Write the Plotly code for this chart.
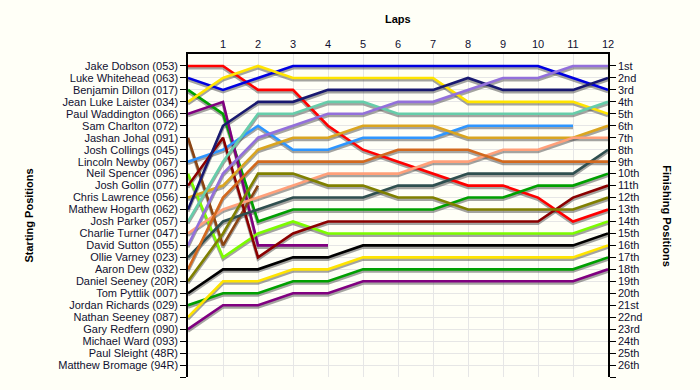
import plotly.graph_objects as go

laps = list(range(0, 13))
lap_labels = [str(i) for i in range(1, 13)]

starting_names = [
    "Jake Dobson (053)", "Luke Whitehead (063)", "Benjamin Dillon (017)",
    "Jean Luke Laister (034)", "Paul Waddington (066)", "Sam Charlton (072)",
    "Jashan Johal (091)", "Josh Collings (045)", "Lincoln Newby (067)",
    "Neil Spencer (096)", "Josh Gollin (077)", "Chris Lawrence (056)",
    "Mathew Hogarth (062)", "Josh Parker (057)", "Charlie Turner (047)",
    "David Sutton (055)", "Ollie Varney (023)", "Aaron Dew (032)",
    "Daniel Seeney (20R)", "Tom Pyttlik (007)", "Jordan Richards (029)",
    "Nathan Seeney (087)", "Gary Redfern (090)", "Michael Ward (093)",
    "Paul Sleight (48R)", "Matthew Bromage (94R)",
]

finishing_labels = [
    "1st", "2nd", "3rd", "4th", "5th", "6th", "7th", "8th", "9th", "10th",
    "11th", "12th", "13th", "14th", "15th", "16th", "17th", "18th", "19th",
    "20th", "21st", "22nd", "23rd", "24th", "25th", "26th",
]

# position per lap (lap 0 = grid)
jake_dobson      = [1, 1, 3, 3, 6, 8, 9, 10, 11, 11, 12, 14, 13]
luke_whitehead   = [2, 3, 2, 1, 1, 1, 1, 1, 1, 1, 1, 2, 3]
benjamin_dillon  = [3, 5, 14, 13, 13, 13, 13, 13, 12, 12, 11, 11, 10]
jean_luke_laister = [4, 2, 1, 2, 2, 2, 2, 2, 4, 4, 4, 4, 5]
paul_waddington  = [5, 4, 16, 16, 16]
jashan_johal     = [7, 16, 11]
lincoln_newby    = [9, 8, 6, 8, 8, 7, 7, 7, 6, 6, 6, 6]
neil_spencer     = [10, 17, 15, 14, 15, 15, 15, 15, 15, 15, 15, 15, 14]
josh_gollin      = [11, 7, 17, 15, 14, 14, 14, 14, 14, 14, 14, 12, 11]
chris_lawrence   = [12, 11, 8, 7, 7, 6, 6, 6, 7, 7, 7, 7, 6]
mathew_hogarth   = [13, 6, 4, 4, 3, 3, 3, 3, 2, 3, 3, 3, 2]
josh_parker      = [14, 9, 5, 5, 4, 4, 5, 5, 5, 5, 5, 5, 4]
charlie_turner   = [15, 13, 12, 11, 10, 10, 10, 9, 9, 8, 8, 7, 7]
david_sutton     = [16, 10, 7, 6, 5, 5, 4, 4, 3, 2, 2, 1, 1]
ollie_varney     = [17, 14, 13, 12, 12, 12, 11, 11, 10, 10, 10, 10, 8]
aaron_dew        = [18, 12, 9, 9, 9, 9, 8, 8, 8, 9, 9, 9, 9]
daniel_seeney    = [19, 15, 10, 10, 11, 11, 12, 12, 13, 13, 13, 13, 12]
tom_pyttlik      = [20, 18, 18, 17, 17, 16, 16, 16, 16, 16, 16, 16, 15]
jordan_richards  = [21, 20, 20, 19, 19, 18, 18, 18, 18, 18, 18, 18, 17]
nathan_seeney    = [22, 19, 19, 18, 18, 17, 17, 17, 17, 17, 17, 17, 16]
gary_redfern     = [23, 21, 21, 20, 20, 19, 19, 19, 19, 19, 19, 19, 18]

series = [
    ("Jake Dobson (053)", jake_dobson, "#FF0000"),
    ("Luke Whitehead (063)", luke_whitehead, "#0000E0"),
    ("Benjamin Dillon (017)", benjamin_dillon, "#00A000"),
    ("Jean Luke Laister (034)", jean_luke_laister, "#FFE400"),
    ("Paul Waddington (066)", paul_waddington, "#800080"),
    ("Jashan Johal (091)", jashan_johal, "#8B4513"),
    ("Lincoln Newby (067)", lincoln_newby, "#2E96FF"),
    ("Neil Spencer (096)", neil_spencer, "#7CFC00"),
    ("Josh Gollin (077)", josh_gollin, "#8B0000"),
    ("Chris Lawrence (056)", chris_lawrence, "#DAA520"),
    ("Mathew Hogarth (062)", mathew_hogarth, "#191970"),
    ("Josh Parker (057)", josh_parker, "#66CDAA"),
    ("Charlie Turner (047)", charlie_turner, "#FFA07A"),
    ("David Sutton (055)", david_sutton, "#9370DB"),
    ("Ollie Varney (023)", ollie_varney, "#2F4F4F"),
    ("Aaron Dew (032)", aaron_dew, "#D2691E"),
    ("Daniel Seeney (20R)", daniel_seeney, "#808000"),
    ("Tom Pyttlik (007)", tom_pyttlik, "#000000"),
    ("Jordan Richards (029)", jordan_richards, "#00A000"),
    ("Nathan Seeney (087)", nathan_seeney, "#FFE400"),
    ("Gary Redfern (090)", gary_redfern, "#800080"),
]

BG = "#FFFFF7"
TXT = "#101030"
FONT = "Liberation Sans"

fig = go.Figure()

# drop shadows (drawn on a slightly shifted hidden axis)
for name, vals, col in series:
    fig.add_trace(go.Scatter(
        x=laps[:len(vals)], y=vals, mode="lines", xaxis="x", yaxis="y2",
        line=dict(color="rgba(90,90,90,0.55)", width=3), hoverinfo="skip",
        showlegend=False,
    ))

for name, vals, col in series:
    fig.add_trace(go.Scatter(
        x=laps[:len(vals)], y=vals, mode="lines", xaxis="x", yaxis="y3",
        name=name, line=dict(color=col, width=2.6), showlegend=False,
    ))

# invisible trace so the left axis has data attached
fig.add_trace(go.Scatter(
    x=[0], y=[1], mode="markers", xaxis="x", yaxis="y",
    marker=dict(opacity=0), hoverinfo="skip", showlegend=False,
))

n = len(starting_names)
shift = 0.17

fig.update_layout(
    width=700, height=390,
    paper_bgcolor=BG, plot_bgcolor=BG,
    margin=dict(l=188, r=92, t=54, b=13),
    font=dict(family=FONT, size=11, color=TXT),
    xaxis=dict(
        type="linear",
        side="top", range=[0, 12], tickvals=list(range(1, 13)), ticktext=lap_labels,
        showgrid=True, gridcolor="#E6E6E6", gridwidth=1,
        showline=True, linecolor="black", linewidth=1.5, mirror=False,
        ticks="", zeroline=False, tickfont=dict(size=11, color=TXT),
    ),
    yaxis=dict(
        type="linear",
        range=[n + 1, 0], tickvals=list(range(1, n + 2)),
        ticktext=starting_names + [""],
        showgrid=True, gridcolor="#E6E6E6", gridwidth=1,
        showline=True, linecolor="black", linewidth=1.5,
        ticks="outside", ticklen=6, tickcolor="black", zeroline=False,
        tickfont=dict(size=11, color=TXT),
    ),
    yaxis2=dict(
        type="linear",
        overlaying="y", range=[n + 1 - shift, -shift], visible=False,
    ),
    yaxis3=dict(
        type="linear",
        overlaying="y", side="right", range=[n + 1, 0],
        tickvals=list(range(1, n + 2)), ticktext=finishing_labels + [""],
        showgrid=False, showline=True, linecolor="black", linewidth=1.5,
        ticks="outside", ticklen=6, tickcolor="black", zeroline=False,
        tickfont=dict(size=11, color=TXT),
    ),
    annotations=[
        dict(text="<b>Laps</b>", x=0.5, y=1.133, xref="paper", yref="paper",
             showarrow=False, font=dict(size=11, color="black")),
        dict(text="<b>Starting Positions</b>", x=-0.40, y=0.5, xref="paper",
             yref="paper", showarrow=False, textangle=-90,
             font=dict(size=11, color="black")),
        dict(text="<b>Finishing Positions</b>", x=1.16, y=0.5, xref="paper",
             yref="paper", showarrow=False, textangle=90,
             font=dict(size=11, color="black")),
    ],
)

fig.write_html("out.html", config={"displayModeBar": False},
               post_script="document.body.style.margin='0';")
